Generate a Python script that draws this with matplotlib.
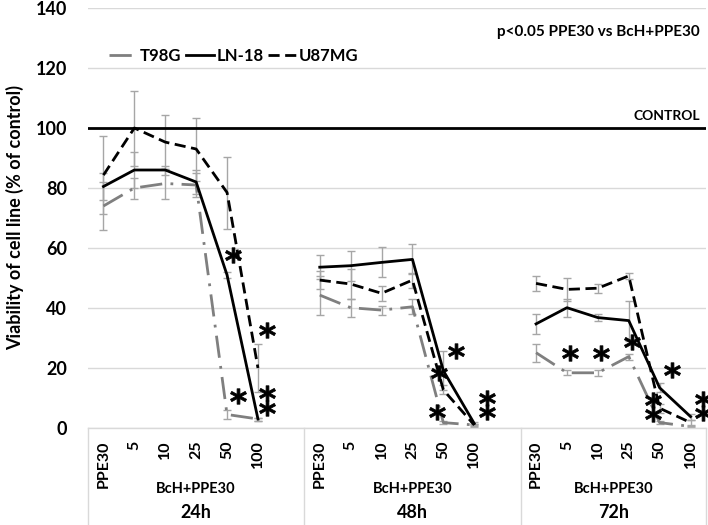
import numpy as np
import matplotlib
matplotlib.use("Agg")
import matplotlib.pyplot as plt

plt.rcParams['font.family'] = ['Lato', 'DejaVu Sans']
plt.rcParams['font.weight'] = 'bold'

# categories
doses = ["PPE30", "5", "10", "25", "50", "100"]
times = ["24h", "48h", "72h"]

# values (% of control), one row per time point
t98g = [[74, 80, 81.5, 81, 4.5, 3],
        [44.3, 40.1, 39.3, 40.4, 1.8, 1],
        [25.1, 18.4, 18.4, 23.8, 1.8, 0.5]]
t98g_err = [[8, 3.5, 5, 4, 1.5, 0.5],
            [6.5, 3, 1.5, 2.5, 0.5, 0.3],
            [3, 0.8, 1, 1, 0.5, 0.3]]
ln18 = [[80.5, 86, 86, 82, 51, 3],
        [53.6, 54.1, 55.2, 56.2, 19.1, 1.5],
        [34.7, 40.1, 36.8, 35.8, 13.4, 3.8]]
ln18_err = [[4.5, 6, 1.5, 4, 1, 0.5],
            [4, 5, 5, 5, 6.5, 0.5],
            [3.3, 3, 1.2, 6.7, 1.5, 1]]
u87 = [[84.3, 100, 95.3, 93, 78.5, 20],
       [49.3, 48, 44.9, 49.3, 12.7, 1],
       [48.2, 46.2, 46.6, 50.7, 6.6, 1.8]]
u87_err = [[13, 12.5, 9, 10.5, 12, 8],
           [3, 5, 2.4, 2.5, 1.5, 0.5],
           [2.5, 3.7, 1.5, 1, 1.5, 0.8]]

# significance stars (category index, value)
stars_x = [4.2, 4.35, 5.3, 5.3, 5.3,
           11.4, 10.85, 10.8, 12.4, 12.4,
           15.1, 16.1, 17.1, 18.4, 17.8, 17.8, 19.4, 19.4]
stars_y = [57.7, 10.7, 32.7, 11.7, 6.7,
           25.7, 18.3, 5.3, 10, 5.3,
           25, 25, 28.7, 19.3, 9.3, 4.7, 9.7, 5]

fig = plt.figure(figsize=(7.08, 5.25), dpi=100)
ax = fig.add_axes([88/708, 97/525, 618/708, 420/525])

ax.set_xlim(-0.5, 19.5)
ax.set_ylim(0, 140)
ax.set_yticks(range(0, 141, 20))
ax.yaxis.grid(True, color='#d9d9d9', lw=1)
ax.set_axisbelow(True)
for s in ax.spines.values():
    s.set_visible(False)
ax.tick_params(axis='y', length=0, pad=15, labelsize=13)
ax.set_xticks([])
for lab in ax.get_yticklabels():
    lab.set_fontweight('bold')

ax.axhline(100, color='black', lw=2, zorder=3)
ax.text(19.3, 102, "CONTROL", ha='right', va='bottom', fontsize=10, fontweight='bold')
ax.text(19.3, 132, "p<0.05 PPE30 vs BcH+PPE30", ha='right', va='center',
        fontsize=11, fontweight='bold')

series = [(t98g, t98g_err, 'T98G', dict(color='#7f7f7f', ls=(0, (8, 3, 1, 3)))),
          (ln18, ln18_err, 'LN-18', dict(color='black', ls='-')),
          (u87, u87_err, 'U87MG', dict(color='black', ls=(0, (4, 2))))]

for g in range(3):
    xs = np.arange(6) + g * 7
    for vals, errs, name, st in series:
        ax.errorbar(xs, vals[g], yerr=errs[g], fmt='none', ecolor='#a6a6a6',
                    elinewidth=1, capsize=3, zorder=2)
        ax.plot(xs, vals[g], lw=2, label=name if g == 0 else None, zorder=4, **st)

ax.plot(stars_x, stars_y, ls='none', marker=r'$\mathbf{*}$', ms=11.5,
        color='black', mec='black', mew=0.6, zorder=5, clip_on=False)

leg = ax.legend(loc='upper left', bbox_to_anchor=(0.01, 0.94), ncol=3, frameon=False,
                handlelength=1.7, handletextpad=0.15, columnspacing=0.25,
                prop={'weight': 'bold', 'size': 12})

# category axis
trans = ax.get_xaxis_transform()
for xb in [-0.5, 6.5, 13.5, 19.5]:
    ax.plot([xb, xb], [0, -0.24], transform=trans, color='#d9d9d9', lw=1, clip_on=False)
ax.plot([-0.5, 19.5], [0, 0], transform=trans, color='#d9d9d9', lw=1, clip_on=False)
for g in range(3):
    for i, d in enumerate(doses):
        ax.text(i + g * 7, -0.03, d, rotation=90, ha='center', va='top',
                fontsize=11.5, fontweight='bold', transform=trans)
    cx = 2.5 + g * 7 + (0.5 if g < 2 else 0)
    ax.text(cx, -0.145, "BcH+PPE30", ha='center', va='center', fontsize=10.5,
            fontweight='bold', transform=trans)
    ax.text(cx, -0.2, times[g], ha='center', va='center', fontsize=13,
            fontweight='bold', transform=trans)

ax.set_ylabel("Viability of cell line (% of control)", fontsize=13, fontweight='bold', labelpad=8)

fig.savefig("out.png", dpi=100)
